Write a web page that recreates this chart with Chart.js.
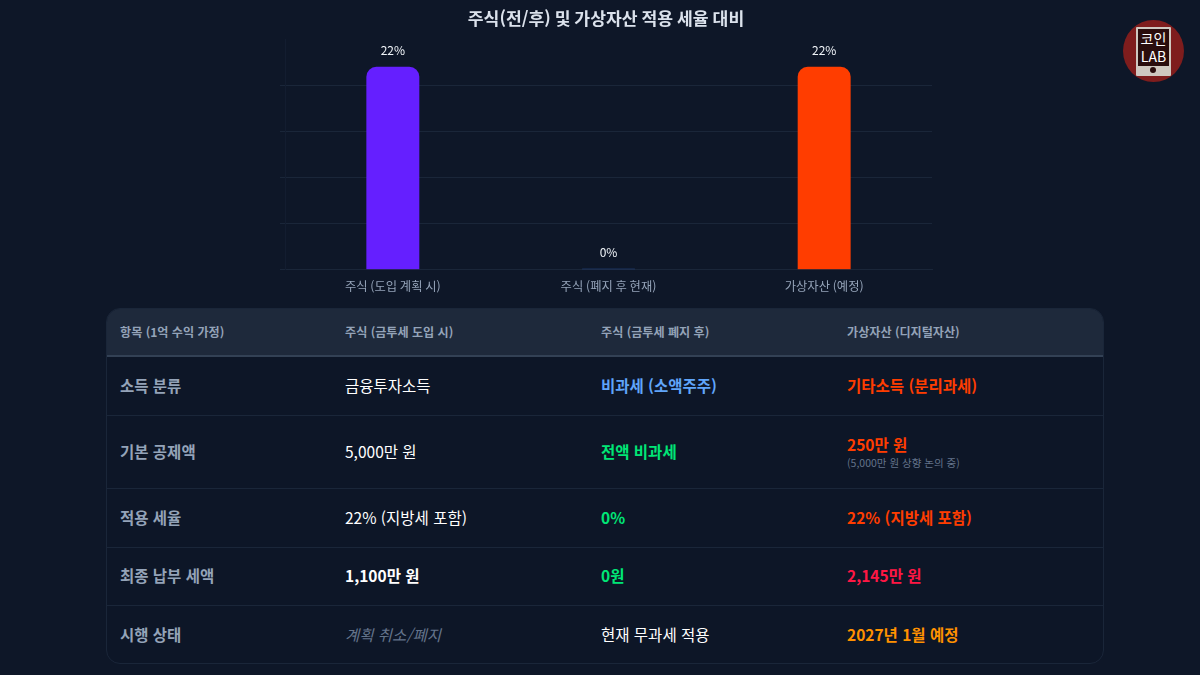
<!DOCTYPE html>
<html lang="ko">
<head>
<meta charset="utf-8">
<script src="https://cdn.jsdelivr.net/npm/chart.js@4"></script>
<style>
  * { box-sizing: border-box; }
  html, body { margin: 0; width: 1200px; height: 675px; overflow: hidden; background: #0e1728; }
  body { font-family: "Noto Sans CJK KR", "Noto Sans", sans-serif; position: relative; }
  #chartBox { position: absolute; left: 230px; top: 0; width: 752px; height: 300px; }
  #tableBox { position: absolute; left: 106px; top: 308px; width: 998px; height: 356px; border: 1px solid #1a2639; border-radius: 14px; overflow: hidden; background: #0d1627; }
  table { width: 100%; height: 100%; border-collapse: collapse; table-layout: fixed; }
  th { background: #1e293b; color: #94a3b8; font-size: 12.1px; font-weight: 700; text-align: left; height: 47px; padding: 0 0 1px 13px; border-bottom: 2px solid #334155; }
  td { font-size: 15.5px; color: #fff; padding: 0 0 2px 13px; border-bottom: 1px solid #1a2639; font-weight: 400; }
  tr:last-child td { border-bottom: none; }
  td:first-child { color: #94a3b8; font-weight: 700; font-size: 15.5px; }
  .note { display: block; font-size: 10.5px; font-weight: 400; color: #64748b; line-height: 12px; margin-top: 2px; }
  #logo { position: absolute; left: 1123px; top: 20px; width: 61px; height: 62px; border-radius: 50%; background: #7f1d1d; }
  #phone { position: absolute; left: 13px; top: 7px; width: 35px; height: 49px; background: #cfc8c0; border-radius: 1px; }
  #screen { position: absolute; left: 2px; top: 2px; width: 31px; height: 37px; background: #2a0d0d; color: #fff; font-size: 14px; line-height: 18px; font-weight: 400; text-align: center; }
  #screen span { display: block; }
  #dot { position: absolute; left: 14px; top: 40px; width: 6px; height: 6px; border-radius: 50%; background: #2a0d0d; }
</style>
</head>
<body>
<div id="chartBox"><canvas id="taxChart"></canvas></div>
<div id="logo"><div id="phone"><div id="screen"><span>코인</span><span>LAB</span></div><div id="dot"></div></div></div>
<div id="tableBox"><table id="taxTable"></table></div>

<script>
// chart data
const chartTitle = "주식(전/후) 및 가상자산 적용 세율 대비";
const categories = ["주식 (도입 계획 시)", "주식 (폐지 후 현재)", "가상자산 (예정)"];
const taxRates = [22, 0, 22];
const barColors = ["#651fff", "#2a5298", "#ff3d00"];

// table data
const headers = ["항목 (1억 수익 가정)", "주식 (금투세 도입 시)", "주식 (금투세 폐지 후)", "가상자산 (디지털자산)"];
const rowNames = ["소득 분류", "기본 공제액", "적용 세율", "최종 납부 세액", "시행 상태"];
const planned = ["금융투자소득", "5,000만 원", "22% (지방세 포함)", "1,100만 원", "계획 취소/폐지"];
const abolished = ["비과세 (소액주주)", "전액 비과세", "0%", "0원", "현재 무과세 적용"];
const crypto = ["기타소득 (분리과세)", "250만 원", "22% (지방세 포함)", "2,145만 원", "2027년 1월 예정"];
const cryptoNote = "(5,000만 원 상향 논의 중)";
const columnWidths = ["225px", "256px", "246px", "auto"];
const rowHeights = ["59px", "73px", "59px", "58px", "59px"];

const plannedStyle = ["", "", "", "font-weight:700", "color:#64748b;font-style:italic"];
const abolishedStyle = ["color:#60a5fa;font-weight:700", "color:#00e676;font-weight:700", "color:#00e676;font-weight:700", "color:#00e676;font-weight:700", ""];
const cryptoStyle = ["color:#ff3d00;font-weight:700", "color:#ff3d00;font-weight:700", "color:#ff3d00;font-weight:700", "color:#ff1744;font-weight:700", "color:#ff9100;font-weight:700"];

// build table
let html = "<colgroup>" + columnWidths.map(w => `<col style="width:${w}">`).join("") + "</colgroup>";
html += "<tr>" + headers.map(h => `<th>${h}</th>`).join("") + "</tr>";
for (let i = 0; i < rowNames.length; i++) {
  let note = i == 1 ? `<span class="note">${cryptoNote}</span>` : "";
  html += `<tr style="height:${rowHeights[i]}"><td>${rowNames[i]}</td>`;
  html += `<td style="${plannedStyle[i]}">${planned[i]}</td>`;
  html += `<td style="${abolishedStyle[i]}">${abolished[i]}</td>`;
  html += `<td style="${cryptoStyle[i]}">${crypto[i]}${note}</td></tr>`;
}
document.getElementById("taxTable").innerHTML = html;

// value labels above the bars
const valueLabels = {
  id: "valueLabels",
  afterDatasetsDraw(chart) {
    const ctx = chart.ctx;
    const meta = chart.getDatasetMeta(0);
    ctx.save();
    ctx.fillStyle = "#f1f5f9";
    ctx.font = '12px "Noto Sans CJK KR"';
    ctx.textAlign = "center";
    ctx.textBaseline = "bottom";
    meta.data.forEach((bar, i) => {
      ctx.fillText(taxRates[i] + "%", bar.x, bar.y - 10.5);
    });
    ctx.restore();
  },
};

let myChart = document.getElementById("taxChart").getContext("2d");
let chart = new Chart(myChart, {
  type: "bar",
  data: {
    labels: categories,
    datasets: [
      {
        data: taxRates,
        backgroundColor: barColors,
        borderRadius: { topLeft: 10, topRight: 10 },
        borderSkipped: "bottom",
        minBarLength: 1,
        barPercentage: 0.307,
        categoryPercentage: 0.8,
      },
    ],
  },
  plugins: [valueLabels],
  options: {
    responsive: true,
    maintainAspectRatio: false,
    animation: false,
    layout: { padding: { left: 50, right: 50, top: 0, bottom: 5.5 } },
    plugins: {
      legend: { display: false },
      tooltip: { enabled: false },
      title: {
        display: true,
        text: chartTitle,
        color: "#dbe2ec",
        font: { family: "Noto Sans CJK KR", size: 17.2, weight: "700" },
        padding: { top: 8, bottom: 10.4 },
      },
    },
    scales: {
      x: {
        grid: { display: false },
        border: { color: "#1a2639" },
        ticks: { color: "#94a3b8", font: { family: "Noto Sans CJK KR", size: 12.3 }, padding: 1 },
      },
      y: {
        min: 0,
        max: 25,
        grid: {
          tickLength: 5,
          color: (c) => (c.tick.value == 25 ? "transparent" : "#1a2639"),
        },
        border: { color: "#131d30" },
        ticks: { stepSize: 5, display: false },
      },
    },
  },
});
</script>
</body>
</html>
